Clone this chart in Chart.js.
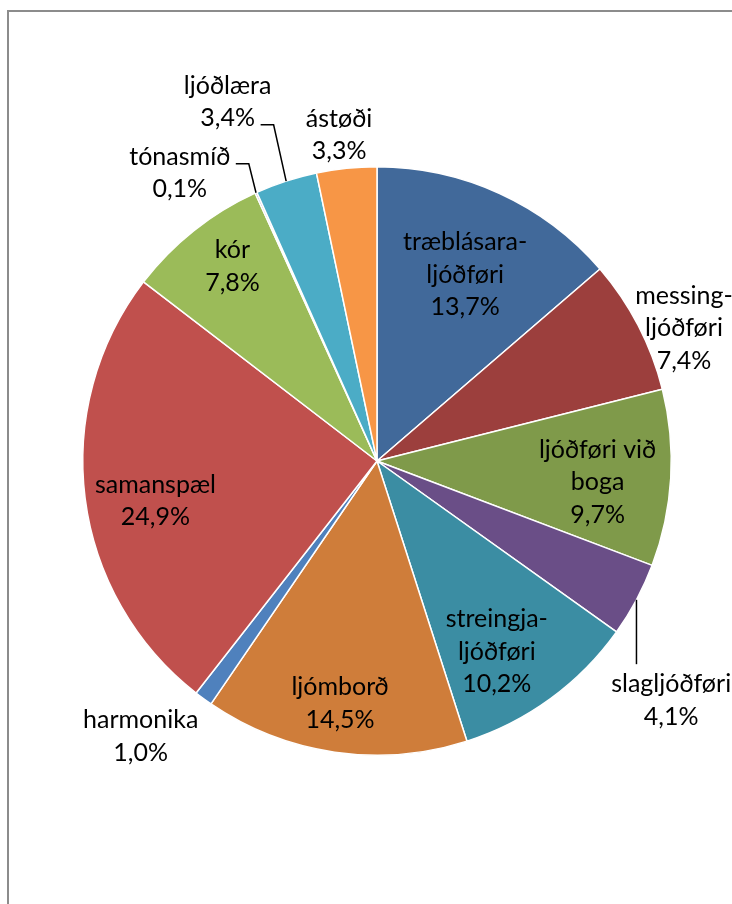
<!DOCTYPE html>
<html>
<head>
<meta charset="utf-8">
<script src="https://cdn.jsdelivr.net/npm/chart.js@4/dist/chart.umd.min.js"></script>
<style>
body{margin:0;background:#fff;}
#ramma{position:absolute;left:7px;top:10px;width:900px;height:1000px;border:2px solid #8c8c8c;}
#grafico{position:absolute;left:0;top:0;}
</style>
</head>
<body>
<div id="ramma"></div>
<canvas id="grafico" width="732" height="904"></canvas>
<script>

let bolkar = [
["træblásara-","ljóðføri"],
["messing-","ljóðføri"],
["ljóðføri við","boga"],
["slagljóðføri"],
["streingja-","ljóðføri"],
["ljómborð"],
["harmonika"],
["samanspæl"],
["kór"],
["tónasmíð"],
["ljóðlæra"],
["ástøði"]
]

let prosent = [13.7,7.4,9.7,4.1,10.2,14.5,1.0,24.9,7.8,0.1,3.4,3.3]

let litir = ["#41699a","#9c3f3d","#7f9a4a","#6a4e87","#3b8da3","#cf7d3a",
"#4f81bd","#c0504d","#9bbb59","#8064a2","#4bacc6","#f79646"]

// hvar teksturin stendur: [radius faktor, vinkul-flyt í gradum]
let tekstStad = [[0.70,0.7],[1.137,4.0],[0.753,2.1],[1.289,11.0],[0.765,4.0],[0.833,0.4],
[1.233,4.5],[0.765,-2.9],[0.824,1.9],[1.187,-10.1],[1.322,-4.6],[1.116,-0.7]]

// leidarlinjur
let linjur = {3:{type:"v",end:[0,-36]}, 9:{pts:[[69,-9],[56,-9]]}, 10:{pts:[[46,23],[33,23]]}}

let tekstir = {
id:"tekstir",
afterDatasetsDraw(chart){
let c = chart.ctx
let arcs = chart.getDatasetMeta(0).data
c.save()
c.font = "25px Lato"
c.fillStyle = "#000"
c.strokeStyle = "#000"
c.lineWidth = 1.5
c.textAlign = "center"
c.textBaseline = "middle"
arcs.forEach((a,i)=>{
let mid = (a.startAngle+a.endAngle)/2
let st = tekstStad[i]
let ang = mid + st[1]*Math.PI/180
let r = a.outerRadius*st[0]
let lx = a.x + Math.cos(ang)*r
let ly = a.y + Math.sin(ang)*r
let lines = bolkar[i].concat([prosent[i].toFixed(1).replace(".",",")+"%"])
let lh = 32.5
let y0 = ly - (lines.length-1)*lh/2
lines.forEach((t,k)=>c.fillText(t,lx,y0+k*lh))
let L = linjur[i]
if(L){
let ex = a.x + Math.cos(mid)*a.outerRadius
let ey = a.y + Math.sin(mid)*a.outerRadius
c.beginPath()
c.moveTo(ex,ey)
if(L.type=="v"){
c.lineTo(ex, y0+L.end[1]+16)
}else{
L.pts.forEach(p=>c.lineTo(lx+p[0],ly+p[1]))
}
c.stroke()
}
})
c.restore()
}
}

let ctx = document.getElementById("grafico").getContext("2d")

let grafico = new Chart(ctx,{
type:"pie",
data:{
labels:bolkar.map(b=>b.join(" ")),
datasets:[{
data:prosent,
backgroundColor:litir,
borderColor:"#fff",
borderWidth:1.5
}]
},
options:{
responsive:false,
animation:false,
layout:{padding:{left:82,right:60,top:166,bottom:148}},
plugins:{legend:{display:false},tooltip:{enabled:false}}
},
plugins:[tekstir]
})

</script>
</body>
</html>
